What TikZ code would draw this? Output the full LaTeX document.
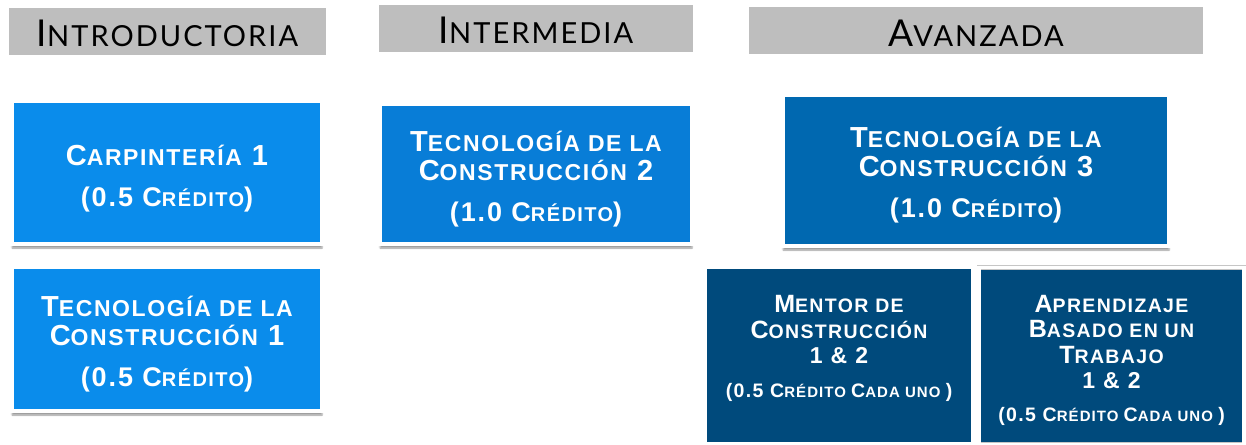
\documentclass[tikz,border=0pt]{standalone}
\usepackage{fontspec}
\usepackage{xcolor}
\usetikzlibrary{shadows.blur}
\newfontfamily\boxfont[LetterSpace=7]{Liberation Sans}
\newfontfamily\headfont[LetterSpace=7]{Lato}
\definecolor{headgray}{RGB}{190,190,190}
\definecolor{lightblue}{RGB}{10,140,235}
\definecolor{midblue}{RGB}{8,125,215}
\definecolor{deepblue}{RGB}{0,104,176}
\definecolor{navyblue}{RGB}{0,74,124}
\newcommand{\lc}[2][23]{{\fontsize{#1}{#1}\selectfont #2}}

\begin{document}
\begin{tikzpicture}[x=1pt,y=-1pt,
  head/.style={fill=headgray, minimum height=47, text height=31, text depth=0,
    font=\headfont\fontsize{37}{37}\selectfont, text=black},
  course/.style={draw=gray!45, double=white, double distance=3.5pt, line width=.4pt,
    blur shadow={shadow xshift=0pt, shadow yshift=-4pt}},
  coursetext/.style={text=white, align=center, inner sep=0pt,
    font=\boxfont\bfseries\fontsize{29}{29}\selectfont},
  smalltext/.style={coursetext, font=\boxfont\bfseries\fontsize{25}{25.5}\selectfont}]
  \useasboundingbox (0,0) rectangle (1246,444);

  \node[head, minimum width=317] (intro) at (167.5,31.5) {I\lc[29]{NTRODUCTORIA}};
  \node[head, minimum width=314] (inter) at (536,28.5) {I\lc[29]{NTERMEDIA}};
  \node[head, minimum width=454] (avanz) at (976,31) {A\lc[29]{VANZADA}};

  \node[course, fill=lightblue, minimum width=310, minimum height=143] (carp) at (167,172.5) {};
  \node[coursetext, yshift=-6pt] (carp-t) at (carp)
    {C\lc{ARPINTERÍA} 1\\[12pt] \lc[27]{(0.5 C}\lc[20]{RÉDITO}\lc[27]{)}};
  \node[course, fill=lightblue, minimum width=310, minimum height=144] (tc1) at (167,339) {};
  \node[coursetext, yshift=-5pt] (tc1-t) at (tc1)
    {T\lc{ECNOLOGÍA DE LA}\\ C\lc{ONSTRUCCIÓN} 1\\[12pt] \lc[27]{(0.5 C}\lc[20]{RÉDITO}\lc[27]{)}};
  \node[course, fill=midblue, minimum width=312, minimum height=140] (tc2) at (536,174) {};
  \node[coursetext, yshift=-5pt] (tc2-t) at (tc2)
    {T\lc{ECNOLOGÍA DE LA}\\ C\lc{ONSTRUCCIÓN} 2\\[12pt] \lc[27]{(1.0 C}\lc[20]{RÉDITO}\lc[27]{)}};
  \node[course, fill=deepblue, minimum width=386, minimum height=151] (tc3) at (976,170.5) {};
  \node[coursetext, yshift=-5pt] (tc3-t) at (tc3)
    {T\lc{ECNOLOGÍA DE LA}\\ C\lc{ONSTRUCCIÓN} 3\\[12pt] \lc[27]{(1.0 C}\lc[20]{RÉDITO}\lc[27]{)}};

  \node[course, fill=navyblue, minimum width=268, minimum height=177] (mentor) at (839,355.5) {};
  \node[smalltext, yshift=7pt] (mentor-t) at (mentor)
    {M\lc[19.5]{ENTOR DE}\\ C\lc[19.5]{ONSTRUCCIÓN}\\ \lc[23]{1 \& 2}\\[8pt]
     \lc[19.5]{(0.5 C}\lc[15]{RÉDITO }\lc[19.5]{C}\lc[15]{ADA UNO }\lc[19.5]{)}};
  \node[course, fill=navyblue, minimum width=265, minimum height=177] (abt) at (1111.5,356) {};
  \node[smalltext, yshift=-4pt] (abt-t) at (abt)
    {A\lc[19.5]{PRENDIZAJE}\\ B\lc[19.5]{ASADO EN UN}\\ T\lc[19.5]{RABAJO}\\ \lc[23]{1 \& 2}\\[7pt]
     \lc[19.5]{(0.5 C}\lc[15]{RÉDITO }\lc[19.5]{C}\lc[15]{ADA UNO }\lc[19.5]{)}};
\end{tikzpicture}
\end{document}
